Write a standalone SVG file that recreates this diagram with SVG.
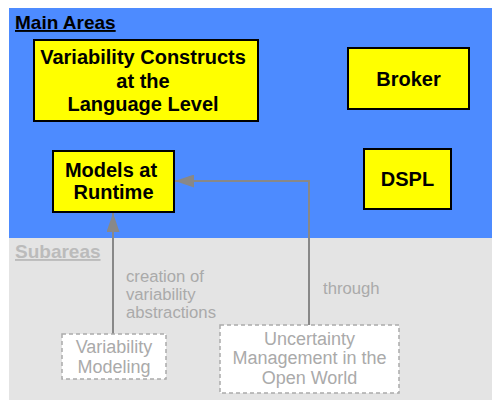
<svg xmlns="http://www.w3.org/2000/svg" width="492" height="400" viewBox="0 0 492 400">
<defs>
<style>
.main{fill:#ffff00;stroke:#000;stroke-width:2}
.mt{font-family:"Liberation Sans",Arial,sans-serif;font-weight:bold;font-size:20px;fill:#000;text-anchor:middle}
.sub{fill:#fff;stroke:#aaa;stroke-width:1.5;stroke-dasharray:4 3}
.st{font-family:"Liberation Sans",Arial,sans-serif;font-size:18px;fill:#aaa;text-anchor:middle}
.lbl{font-family:"Liberation Sans",Arial,sans-serif;font-size:16.7px;fill:#aaa}
.hdr{font-family:"Liberation Sans",Arial,sans-serif;font-weight:bold;font-size:19px;text-decoration:underline}
.conn{fill:none;stroke:#888;stroke-width:2}
</style>
<marker id="ah" markerWidth="19" markerHeight="13" refX="19" refY="6.5" orient="auto" markerUnits="userSpaceOnUse">
<path d="M0,0 L19,6.5 L0,13 Z" fill="#888"/>
</marker>
</defs>
<rect x="9" y="8" width="483" height="230" fill="#4d8bff"/>
<rect x="9" y="238" width="483" height="162" fill="#e4e4e4"/>
<text class="hdr" x="15" y="29" fill="#000">Main Areas</text>
<text class="hdr" x="15" y="258" fill="#bbb">Subareas</text>
<g id="connectors">
<path class="conn" d="M309,325 L309,181 L175,181" marker-end="url(#ah)"/>
<path class="conn" d="M113,334 L113,213" marker-end="url(#ah)"/>
<text class="lbl" x="126" y="282">creation of</text>
<text class="lbl" x="126" y="300">variability</text>
<text class="lbl" x="126" y="318">abstractions</text>
<text class="lbl" x="323" y="294">through</text>
</g>
<g id="vc">
<rect class="main" x="34" y="40" width="224" height="81"/>
<text class="mt" x="143" y="64">Variability Constructs</text>
<text class="mt" x="143" y="88">at the</text>
<text class="mt" x="143" y="111">Language Level</text>
</g>
<g id="broker">
<rect class="main" x="348" y="48" width="121" height="61"/>
<text class="mt" x="408.5" y="86">Broker</text>
</g>
<g id="dspl">
<rect class="main" x="364" y="149" width="87" height="60"/>
<text class="mt" x="407.5" y="186">DSPL</text>
</g>
<g id="mart">
<rect class="main" x="53" y="151" width="121" height="61"/>
<text class="mt" x="111" y="177">Models at</text>
<text class="mt" x="113.5" y="199">Runtime</text>
</g>
<g id="vm">
<rect class="sub" x="62" y="334" width="104" height="45"/>
<text class="st" x="114" y="353">Variability</text>
<text class="st" x="114" y="373">Modeling</text>
</g>
<g id="um">
<rect class="sub" x="220" y="325" width="179" height="68"/>
<text class="st" x="309.5" y="345">Uncertainty</text>
<text class="st" x="309.5" y="364">Management in the</text>
<text class="st" x="309.5" y="384">Open World</text>
</g>
</svg>
